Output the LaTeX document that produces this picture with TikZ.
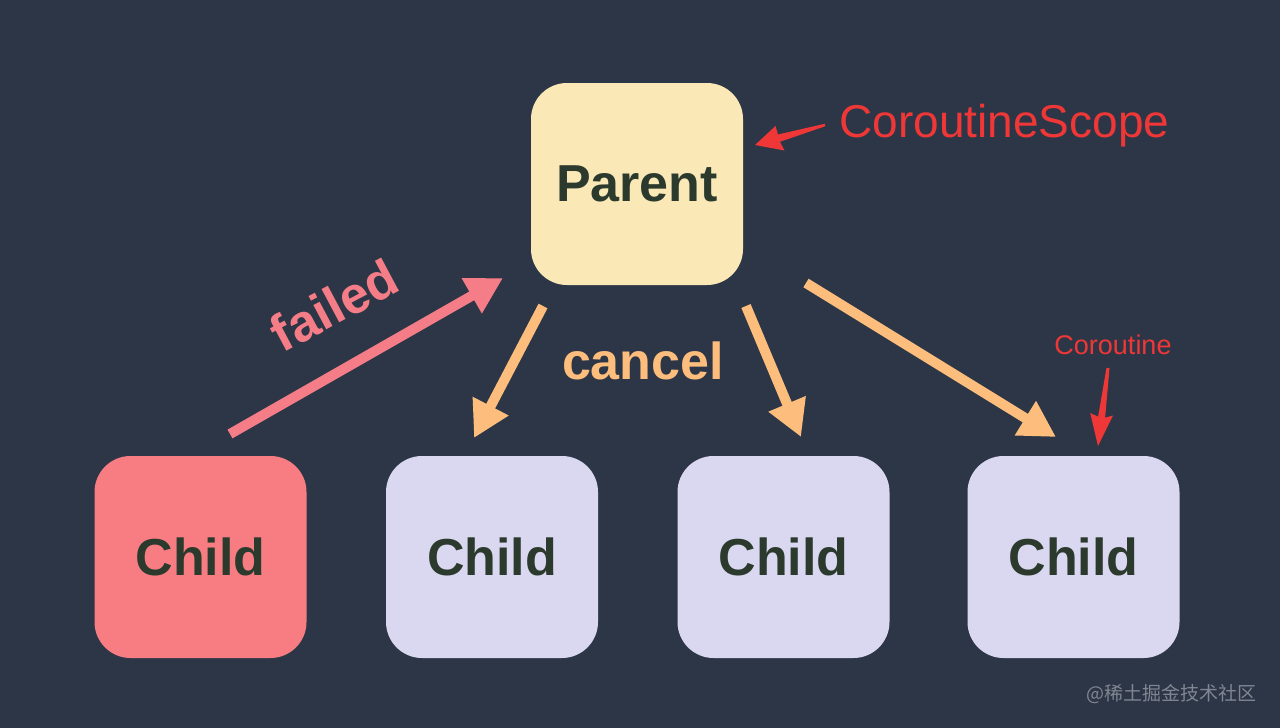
\documentclass[tikz,border=0pt]{standalone}
\usepackage{fontspec}
\setmainfont{Liberation Sans}
\newfontfamily\cjkfont{Noto Sans CJK SC}
\usetikzlibrary{arrows.meta}
\definecolor{bgc}{RGB}{45,54,70}
\definecolor{parentc}{RGB}{251,232,183}
\definecolor{failc}{RGB}{247,125,130}
\definecolor{childc}{RGB}{218,216,240}
\definecolor{textc}{RGB}{44,58,46}
\definecolor{cancelc}{RGB}{253,190,125}
\definecolor{failtxt}{RGB}{245,125,135}
\definecolor{annoc}{RGB}{240,55,55}
\definecolor{wmc}{RGB}{128,134,146}
\tikzset{
  box/.style={rounded corners=18pt, minimum width=106pt, minimum height=101pt,
    inner sep=0pt, text=textc, font=\bfseries\fontsize{26}{30}\selectfont},
  carrow/.style={draw=cancelc, line width=5pt,
    -{Triangle[length=18pt,width=19pt]}},
  farrow/.style={draw=failtxt, line width=5pt,
    -{Triangle[length=18pt,width=19pt]}},
  anno/.style={fill=annoc, draw=none},
}
\begin{document}
\begin{tikzpicture}[x=0.5pt,y=-0.5pt]
\useasboundingbox (0,0) rectangle (1280,728);
\fill[bgc] (0,0) rectangle (1280,728);

\node[box, fill=parentc] (parent) at (637,184) {Parent};
\node[box, fill=failc] (c1) at (200.5,557) {Child};
\node[box, fill=childc] (c2) at (492,557) {Child};
\node[box, fill=childc] (c3) at (783.5,557) {Child};
\node[box, fill=childc] (c4) at (1073.5,557) {Child};

% arrow end points
\coordinate (fS) at (230,434);
\coordinate (fE) at (503,278);
\coordinate (a1S) at (543,306);
\coordinate (a1E) at (474,438);
\coordinate (a2S) at (746,306);
\coordinate (a2E) at (801,437);
\coordinate (a3S) at (806,283);
\coordinate (a3E) at (1056,437);

\draw[farrow] (fS) -- (fE);
\draw[carrow] (a1S) -- (a1E);
\draw[carrow] (a2S) -- (a2E);
\draw[carrow] (a3S) -- (a3E);

\node[text=failtxt, font=\bfseries\fontsize{26}{30}\selectfont, rotate=28,
  inner sep=0pt] (failed) at (334,305) {failed};
\node[text=cancelc, font=\bfseries\fontsize{26}{30}\selectfont,
  inner sep=0pt] (cancel) at (643,361) {cancel};

% annotations
\node[text=annoc, font=\fontsize{23}{27}\selectfont, anchor=west,
  inner sep=0pt] (scope) at (839,126) {CoroutineScope};
\node[text=annoc, font=\fontsize{13.5}{16}\selectfont,
  inner sep=0pt] (coro) at (1113,345) {Coroutine};

% tapered annotation arrows
\coordinate (s1) at (825.3,126.2);
\coordinate (s2) at (824.7,123.8);
\fill[anno] (s1) -- (779.9,141.8) -- (784.5,150.5) -- (755,145) -- (775.5,126.0) -- (778.0,134.5) -- (s2) -- cycle;
\coordinate (k1) at (1109.5,368.2);
\coordinate (k2) at (1106.5,367.8);
\fill[anno] (k1) -- (1105.1,417.7) -- (1113.0,415.5) -- (1098,446) -- (1090.2,413.0) -- (1098.1,416.7) -- (k2) -- cycle;

\node[text=wmc, font=\cjkfont\fontsize{9.5}{11}\selectfont, anchor=east,
  inner sep=0pt] (wm) at (1257,694) {@稀土掘金技术社区};
\end{tikzpicture}
\end{document}
